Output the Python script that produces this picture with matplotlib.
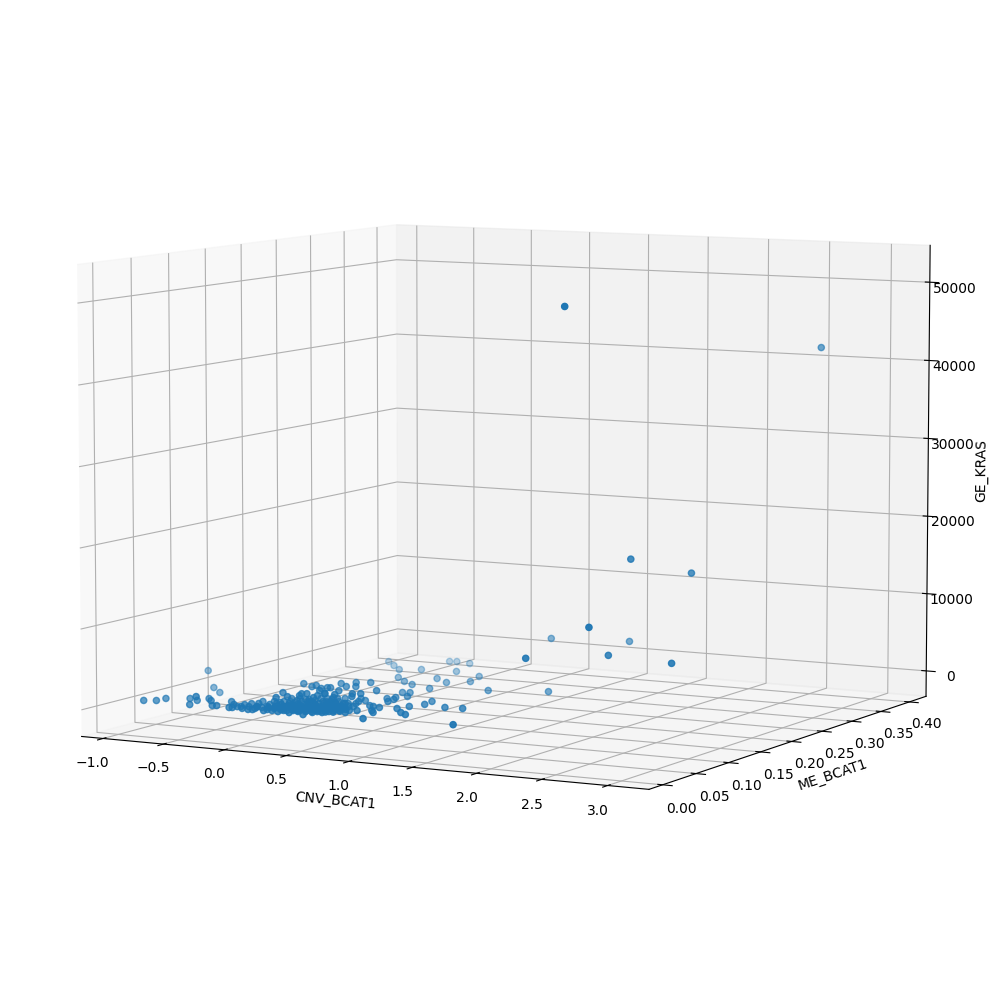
import matplotlib
matplotlib.use('Agg')
import matplotlib.pyplot as plt
from mpl_toolkits.mplot3d import Axes3D

cnv_bcat1 = [-0.73, -0.65, -0.64, -0.49, -0.35, -0.21, -0.40, -0.37, -0.31,
             -0.19, -0.16, -0.04, -0.02, -0.01, 0.01, 0.06, -0.16, 0.01,
             0.14, 0.15, 0.11, 0.03, 0.16, 0.24, 0.29, 0.30, 0.16,
             0.29, 0.23, 0.16, 0.38, 0.44, 0.14, 0.34, 0.47, 0.37,
             0.27, 0.57, 0.15, 0.41, 0.40, 0.27, 0.27, 0.41, 0.51,
             0.33, 0.58, 0.64, 0.51, 0.39, 0.53, -0.12, 0.01, 0.14,
             0.32, 0.45, 0.57, 0.28, 0.27, 0.32, 0.45, 0.55, 0.59,
             0.74, 0.81, 0.87, 1.18, 0.77, 0.76, 0.54, 0.45, 0.54,
             0.48, 0.38, 0.53, 0.41, 0.37, 0.69, 0.74, 0.81, 0.76,
             0.79, 0.73, 0.80, 1.09, 1.07, 1.04, 1.01, 1.12, 1.19,
             1.28, 1.41, 1.69, 1.02, 0.88, 0.78, 0.82, 0.95, 0.90,
             0.73, 0.57, 0.62, 0.74, 0.68, 0.81, 0.76, 0.60, 0.57,
             0.70, 0.41, 0.62, 0.51, 0.42, 0.62, 0.64, 1.58, -0.08,
             -0.01, 0.12, 0.06, 0.05, 0.24, 0.14, 0.24, 0.35, 0.21,
             0.28, 0.24, 0.36, 0.25, 0.41, 0.35, 0.47, 0.36, 0.48,
             0.42, 0.54, 0.49, 0.49, 0.57, 0.66, 0.50, 0.58, 0.62,
             0.62, 0.68, 0.78, 0.67, 0.70, 0.65, 0.10, 0.35, 0.19,
             0.25, 0.53, 0.59, 0.47, 0.29, 0.28, 0.42, 0.31, 0.46,
             0.35, 0.52, 0.31, 0.41, 0.46, 0.36, 0.47, 0.59, 0.42,
             0.54, 0.40, 0.51, 0.47, 0.60, 0.45, 0.67, 0.50, 0.55,
             0.50, 0.69, 0.63, 0.58, 0.72, 0.16, 0.36, 0.20, 0.22,
             0.41, 0.27, 0.33, 0.32, 0.36, 0.65, 0.42, 0.40, -0.87,
             -0.70, -0.65, 2.30, 3.19, 2.45, 2.72, 2.49, 1.40, 2.00,
             2.03, 2.38, 2.87,
             0.12, 0.17, 0.20, 0.22, 0.26, 0.27, 0.31, 0.32, 0.33, 0.38,
             0.39, 0.40, 0.43, 0.44, 0.45, 0.50, 0.51, 0.52, 0.55, 0.56,
             0.60, 0.61, 0.65, 0.66, 0.70, 0.72, 0.44, 0.38, 0.30, 0.53]
me_bcat1 = [-0.009, -0.005, 0.006, 0.014, -0.009, -0.023, 0.009, 0.020, 0.013,
            -0.005, -0.004, -0.007, -0.006, -0.001, 0.001, -0.006, 0.016, 0.015,
            -0.002, -0.007, 0.006, 0.027, 0.004, -0.002, -0.004, 0.000, 0.024,
            0.006, 0.021, 0.034, 0.001, -0.006, 0.048, 0.018, 0.001, 0.023,
            0.040, -0.009, 0.063, 0.022, 0.025, 0.054, 0.060, 0.041, 0.021,
            0.043, 0.002, 0.005, 0.031, 0.055, 0.034, 0.231, 0.216, 0.201,
            0.168, 0.154, 0.144, 0.209, 0.253, 0.255, 0.251, 0.213, 0.177,
            0.164, 0.200, 0.176, 0.146, 0.134, 0.060, 0.090, 0.085, 0.069,
            0.066, 0.076, 0.047, 0.056, 0.050, 0.109, 0.111, 0.095, 0.087,
            0.079, 0.080, 0.069, 0.070, 0.084, 0.057, 0.045, 0.031, 0.025,
            0.065, 0.067, 0.003, -0.004, 0.043, 0.047, 0.045, 0.022, 0.029,
            0.043, 0.071, 0.059, 0.029, 0.040, 0.024, 0.022, 0.048, 0.046,
            0.018, 0.058, 0.024, 0.031, 0.048, 0.014, 0.065, 0.162, 0.006,
            0.009, -0.008, 0.003, 0.018, -0.007, 0.018, 0.008, -0.006, 0.022,
            0.015, 0.028, 0.010, 0.034, 0.012, 0.024, 0.010, 0.035, 0.016,
            0.033, 0.014, 0.026, 0.032, 0.021, 0.011, 0.042, 0.032, 0.029,
            0.034, 0.027, 0.013, 0.037, 0.038, 0.050, 0.031, 0.007, 0.051,
            0.049, 0.012, 0.031, 0.066, 0.011, 0.020, 0.003, 0.027, 0.005,
            0.029, 0.003, 0.042, 0.027, 0.020, 0.040, 0.025, 0.007, 0.038,
            0.020, 0.047, 0.033, 0.041, 0.023, 0.050, 0.016, 0.047, 0.040,
            0.052, 0.023, 0.035, 0.047, 0.024, 0.029, 0.000, 0.036, 0.042,
            0.017, 0.050, 0.048, 0.058, 0.060, 0.019, 0.064, 0.015, 0.100,
            0.080, 0.080, 0.050, 0.270, 0.120, 0.160, 0.050, 0.200, 0.050,
            0.200, 0.100, 0.100,
            0.004, 0.010, 0.006, 0.014, 0.004, 0.012, 0.006, 0.016, 0.002, 0.008,
            0.016, 0.005, 0.010, 0.018, 0.004, 0.008, 0.014, 0.020, 0.006, 0.012,
            0.010, 0.018, 0.008, 0.020, 0.010, 0.016, 0.028, 0.020, 0.022, 0.026]
ge_kras = [1500, 1500, 1500, 1500, 1500, 3000, 1500, 1500, 1500,
           1500, 1500, 1500, 1500, 1500, 1500, 1500, 1500, 1500,
           1500, 1500, 1500, 1500, 1500, 1500, 1500, 3000, 1500,
           1500, 3000, 1500, 1500, 1500, 1500, 1500, 1500, 3000,
           1500, 1500, 3000, 1500, 3000, 3000, 3000, 3000, 3000,
           1500, 1500, 1500, 3000, 3000, 1500, 1500, 1500, 1500,
           1500, 1500, 1500, 1500, 1500, 1500, 1500, 1500, 1500,
           1500, 1500, 1500, 1500, 1500, 3000, 3000, 3000, 3000,
           3000, 3000, 3000, 3000, 3000, 1500, 1500, 1500, 1500,
           1500, 1500, 1500, 1500, 1500, 1500, 1500, 1500, 1500,
           1500, 1500, 1500, 1500, 1500, 1500, 1500, 1500, 1500,
           3000, 1500, 1500, 3000, 3000, 1500, 1500, 1500, 1500,
           1500, 1500, 1500, 3000, 1500, 1500, 1500, 1500, 1500,
           1500, 1500, 1500, 1500, 1500, 1500, 1500, 1500, 1500,
           1500, 1500, 1500, 1500, 1500, 1500, 1500, 1500, 1500,
           1500, 1500, 1500, 1500, 1500, 1500, 1500, 1500, 1500,
           1500, 1500, 1500, 1500, 1500, 1500, 1500, 3000, 1500,
           1500, 3000, 3000, 1500, 1500, 1500, 1500, 1500, 1500,
           1500, 1500, 1500, 1500, 1500, 1500, 1500, 1500, 1500,
           1500, 1500, 1500, 1500, 1500, 1500, 1500, 1500, 1500,
           1500, 1500, 1500, 1500, 1500, 1500, 1500, 1500, 1500,
           1500, 1500, 1500, 1500, 1500, 3000, 1500, 3000, 2450,
           1000, 440, 51150, 43840, 19800, 17580, 13100, 7050, 8770,
           7450, 8450, 8100,
           1500, 1500, 1500, 1500, 1500, 1500, 1500, 1500, 1500, 1500,
           1500, 1500, 1500, 1500, 1500, 1500, 1500, 1500, 1500, 1500,
           1500, 1500, 1500, 1500, 1500, 1500, 1500, 1500, 1500, 1500]

fig = plt.figure(figsize=(10, 10))
ax = fig.add_axes([0, 0, 1, 1], projection='3d')
ax.view_init(elev=6.8, azim=-61.5)
ax.set_box_aspect((4, 4, 2.97), zoom=0.97)
ax.scatter(cnv_bcat1, me_bcat1, ge_kras)
ax.set_xlim(-1.18, 3.31)
ax.set_ylim(-0.02, 0.43)
ax.set_zlim(-3300, 54700)
ax.set_xlabel('CNV_BCAT1')
ax.set_ylabel('ME_BCAT1')
ax.set_zlabel('GE_KRAS')
fig.savefig('out.png', dpi=100)
